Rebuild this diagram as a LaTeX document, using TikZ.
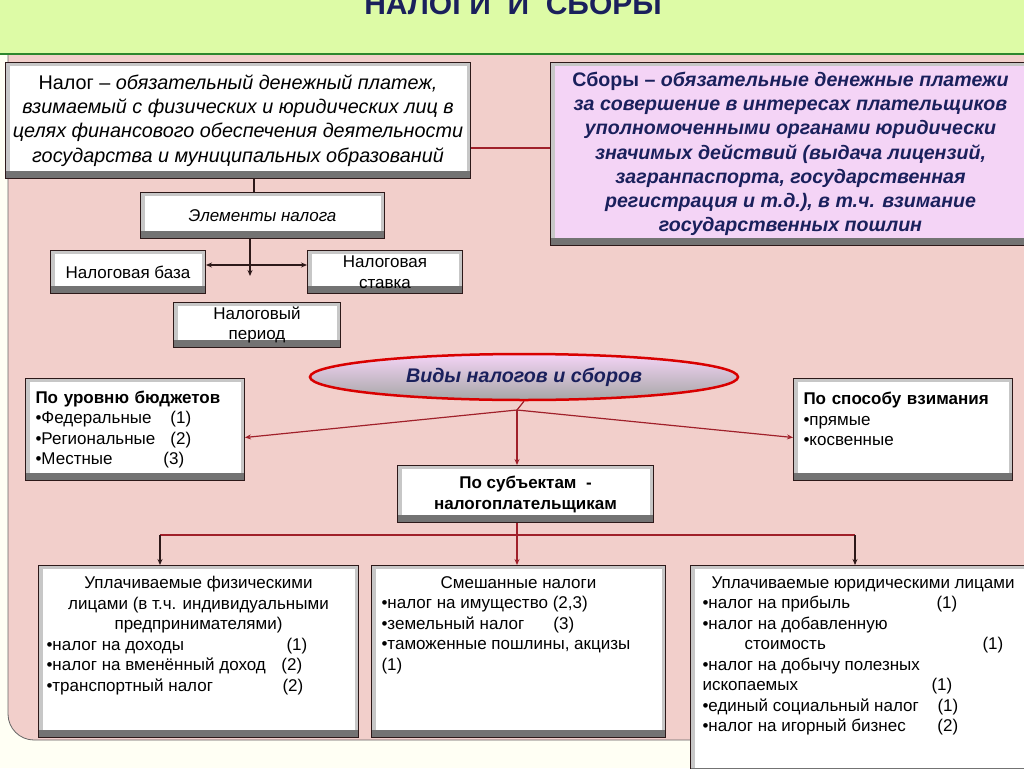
\documentclass[tikz,border=0pt]{standalone}
\usepackage{fontspec}
\setmainfont{Liberation Sans}
\usepackage{xcolor}
\usetikzlibrary{positioning, arrows.meta, shapes.geometric}

\definecolor{cream}{RGB}{255,255,244}
\definecolor{titlegreen}{RGB}{221,251,166}
\definecolor{bordergreen}{RGB}{45,135,45}
\definecolor{panelpink}{RGB}{242,207,203}
\definecolor{lilac}{RGB}{244,212,246}
\definecolor{navy}{RGB}{26,32,92}
\definecolor{darkred}{RGB}{160,32,42}
\definecolor{darkline}{RGB}{45,25,25}

\tikzset{
  bevel/.style={draw=darkline, line width=1pt, fill=black!22,
    path picture={
      \fill[black!55] (path picture bounding box.south west) rectangle ([yshift=8pt]path picture bounding box.south east);
      \fill[#1] ([shift={(4pt,8pt)}]path picture bounding box.south west) rectangle ([shift={(-4pt,-3pt)}]path picture bounding box.north east);
    }},
  bevel/.default=white,
  txt/.style={font=\fontsize{17}{20.5}\selectfont},
  hdr/.style={font=\bfseries\fontsize{17}{21}\selectfont},
  redline/.style={draw=darkred, line width=1.2pt},
  darkarrow/.style={draw=darkline, line width=1.2pt},
}

\begin{document}
\begin{tikzpicture}[x=1pt, y=-1pt, >={Stealth[length=6pt, width=5pt]}]
    \useasboundingbox (0,0) rectangle (1024,768);
    \clip (0,0) rectangle (1024,768);
    \fill[cream] (0,0) rectangle (1024,768);

    % Pink panel behind the scheme
    \filldraw[fill=panelpink, draw=black!60, line width=0.8pt] (1040,50) -- (8,50) [rounded corners=26pt] -- (8,740) [sharp corners] -- (1040,740) -- cycle;

    % Title bar
    \node (title) [draw=bordergreen, line width=2pt, fill=titlegreen, anchor=south west, minimum width=1030, minimum height=100, text=navy, font=\bfseries\fontsize{30}{32}\selectfont] at (-3,55) {НАЛОГИ \ И \ СБОРЫ}; % cut at the top edge

    % Definitions
    \node (nalog) [bevel, anchor=north west, minimum width=465, minimum height=116, align=center, font=\fontsize{19.8}{24.3}\selectfont] at (5,62)
        {Налог – \textit{обязательный денежный платеж,}\\\textit{взимаемый с физических и юридических лиц в}\\\textit{целях финансового обеспечения деятельности}\\\textit{государства и муниципальных образований}}; % tax
    \node (sbory) [bevel=lilac, anchor=north west, minimum width=480, minimum height=183, align=center, text=navy, font=\bfseries\itshape\fontsize{19.6}{24.2}\selectfont] at (550,62)
        {\textup{Сборы –} обязательные денежные платежи\\ за совершение в интересах плательщиков\\уполномоченными органами юридически\\значимых действий (выдача лицензий,\\загранпаспорта, государственная\\регистрация и т.д.), в т.ч. взимание\\государственных пошлин}; % fees

    % Elements of a tax
    \node (elem) [bevel, anchor=north west, minimum width=244, minimum height=46, font=\itshape\fontsize{17}{20}\selectfont] at (140,192) {Элементы налога};
    \node (baza) [bevel, anchor=north west, minimum width=155, minimum height=43, txt] at (50,250) {Налоговая база};
    \node (stavka) [bevel, anchor=north west, minimum width=155, minimum height=43, align=center, txt] at (307,250) {Налоговая\\ставка};
    \node (period) [bevel, anchor=north west, minimum width=167, minimum height=45, align=center, txt] at (173,302) {Налоговый\\период};
    \coordinate (junc) at (250,265);
    \coordinate (pertip) at (250,276);

    % Kinds of taxes
    \node (vidy) [ellipse, draw=red!85!black, line width=2.5pt, minimum width=428, minimum height=46, top color=lilac, middle color=lilac, bottom color=black!35, text=navy, font=\bfseries\itshape\fontsize{19.7}{22}\selectfont] at (524,377) {Виды налогов и сборов};
    \coordinate (hub) at (517,410);
    \node (budget) [bevel, anchor=north west, minimum width=219, minimum height=102, text width=199, align=left, txt] at (25,378)
        {{\bfseries По уровню бюджетов}\\\makebox[135pt][l]{•Федеральные}(1)\\\makebox[135pt][l]{•Региональные}(2)\\\makebox[128pt][l]{•Местные}(3)}; % by budget level
    \node (sposob) [bevel, anchor=north west, minimum width=219, minimum height=102, text width=199, align=left, txt] at (793,378)
        {{\bfseries По способу взимания}\\•прямые\\•косвенные\\\mbox{}}; % by collection method
    \node (subj) [bevel, anchor=north west, minimum width=256, minimum height=57, align=center, hdr] at (397,465) {По субъектам \ -\\налогоплательщикам};

    % Taxpayer groups
    \node (fiz) [bevel, anchor=north west, minimum width=320, minimum height=172, inner xsep=8pt, inner ysep=10pt, txt] at (38,565)
        {\begin{minipage}[t][150pt][t]{304pt}
        {\centering Уплачиваемые физическими\\лицами (в т.ч. индивидуальными\\предпринимателями)\par}
        \makebox[240pt][l]{•налог на доходы}(1)\\
        \makebox[235pt][l]{•налог на вменённый доход}(2)\\
        \makebox[236pt][l]{•транспортный налог}(2)
        \end{minipage}};
    \node (mix) [bevel, anchor=north west, minimum width=294, minimum height=172, inner xsep=10pt, inner ysep=10pt, txt] at (371,565)
        {\begin{minipage}[t][150pt][t]{274pt}
        {\centering Смешанные налоги\par}
        •налог на имущество (2,3)\\
        \makebox[172pt][l]{•земельный налог}(3)\\
        •таможенные пошлины, акцизы\\
        (1)
        \end{minipage}};
    \node (jur) [bevel, anchor=north west, minimum width=345, minimum height=210, inner xsep=12pt, inner ysep=10pt, txt] at (690,565)
        {\begin{minipage}[t][188pt][t]{321pt}
        {\centering Уплачиваемые юридическими лицами\par}
        \makebox[234pt][l]{•налог на прибыль}(1)\\
        •налог на добавленную\\
        \hspace*{42pt}\makebox[238pt][l]{стоимость}(1)\\
        •налог на добычу полезных\\
        \makebox[229pt][l]{ископаемых}(1)\\
        \makebox[235pt][l]{•единый социальный налог}(1)\\
        \makebox[235pt][l]{•налог на игорный бизнес}(2)
        \end{minipage}};
    \coordinate (busL) at (160,535);
    \coordinate (busR) at (855,535);

    % Connectors of the upper part
    \draw[redline] (nalog.east |- 0,148) -- (sbory.west |- 0,148);
    \draw[darkarrow] (nalog.south -| 254,0) -- (elem.north -| 254,0);
    \draw[darkarrow] (elem.south -| junc) -- (junc);
    \draw[darkarrow, ->] (junc) -- (baza.east |- junc);
    \draw[darkarrow, ->] (junc) -- (stavka.west |- junc);
    \draw[darkarrow, ->] (junc) -- (pertip);

    % Connectors of the kinds
    \draw[redline] (vidy.south) -- (hub);
    \draw[redline, ->] (hub) -- ([yshift=-8pt]budget.east);
    \draw[redline, ->] (hub) -- ([yshift=-8pt]sposob.west);
    \draw[redline, ->] (hub) -- (hub |- subj.north);
    \draw[redline] (hub |- subj.south) -- (hub |- busL);
    \draw[redline] (busL) -- (busR);
    \draw[darkarrow, ->] (busL) -- (busL |- fiz.north);
    \draw[redline, ->] (hub |- busL) -- (hub |- mix.north);
    \draw[darkarrow, ->] (busR) -- (busR |- jur.north);
\end{tikzpicture}
\end{document}
